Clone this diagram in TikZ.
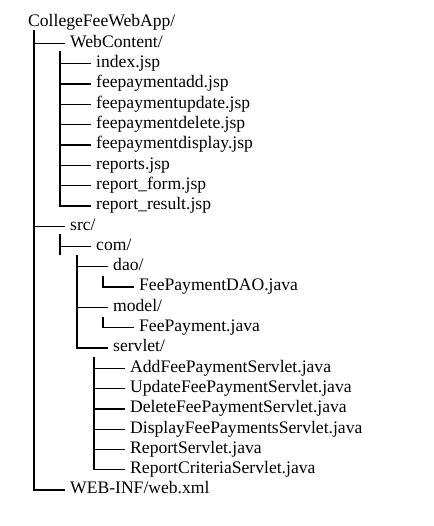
\documentclass[tikz,border=0pt]{standalone}
\usepackage{fontspec}
\setmainfont{Liberation Serif}

\begin{document}
\begin{tikzpicture}[
        x=1pt, y=-1pt,
        every node/.style={anchor=base west,inner sep=0pt,font=\fontsize{17.6}{20}\selectfont},
        branch/.style={line width=1.3pt,line cap=rect},
      ]
      \useasboundingbox (0,0) rectangle (433,526);
      % Root and first level
      \node (root) at (28,27) {CollegeFeeWebApp/};
      \node (wc) at (70,{27+20.3*1}) {WebContent/};
      \node (src) at (70,{27+20.3*10}) {src/};
      \node (web) at (70,{27+20.3*23}) {WEB-INF/web.xml};
      % WebContent files
      \foreach \f [count=\i from 2] in {index.jsp,feepaymentadd.jsp,feepaymentupdate.jsp,
          feepaymentdelete.jsp,feepaymentdisplay.jsp,reports.jsp,report\_form.jsp,report\_result.jsp}
        \node (jsp\i) at (96,{27+20.3*\i}) {\f};
      % Java sources
      \node (com) at (96,{27+20.3*11}) {com/};
      \node (dao) at (113,{27+20.3*12}) {dao/};
      \node (daofile) at (139,{27+20.3*13}) {FeePaymentDAO.java};
      \node (model) at (113,{27+20.3*14}) {model/};
      \node (modelfile) at (139,{27+20.3*15}) {FeePayment.java};
      \node (servlet) at (113,{27+20.3*16}) {servlet/};
      \foreach \f [count=\i from 17] in {AddFeePaymentServlet.java,UpdateFeePaymentServlet.java,
          DeleteFeePaymentServlet.java,DisplayFeePaymentsServlet.java,ReportServlet.java,ReportCriteriaServlet.java}
        \node (srv\i) at (130,{27+20.3*\i}) {\f};

      % Trunks
      \coordinate (rootT) at (34,31);
      \coordinate (wcT) at (60,52);
      \coordinate (srcT) at (60,235);
      \coordinate (srcE) at (60,254);
      \coordinate (comT) at (77,256);
      \coordinate (daoT) at (103,277);
      \coordinate (modelT) at (103,318);
      \coordinate (servT) at (94,358);

      % Branches
      \foreach \n in {wc,src,web}
        \draw[branch] (rootT) |- ([xshift=-6pt,yshift=1.5pt]\n.mid west);
      \foreach \i in {2,...,9}
        \draw[branch] (wcT) |- ([xshift=-6pt,yshift=1.5pt]jsp\i.mid west);
      \draw[branch] (srcT) -- (srcE);
      \draw[branch] (srcT) |- ([xshift=-6pt,yshift=1.5pt]com.mid west);
      \foreach \n in {dao,model,servlet}
        \draw[branch] (comT) |- ([xshift=-6pt,yshift=1.5pt]\n.mid west);
      \draw[branch] (daoT) |- ([xshift=-6pt,yshift=1.5pt]daofile.mid west);
      \draw[branch] (modelT) |- ([xshift=-6pt,yshift=1.5pt]modelfile.mid west);
      \foreach \i in {17,...,22}
        \draw[branch] (servT) |- ([xshift=-6pt,yshift=1.5pt]srv\i.mid west);
    \end{tikzpicture}
\end{document}
